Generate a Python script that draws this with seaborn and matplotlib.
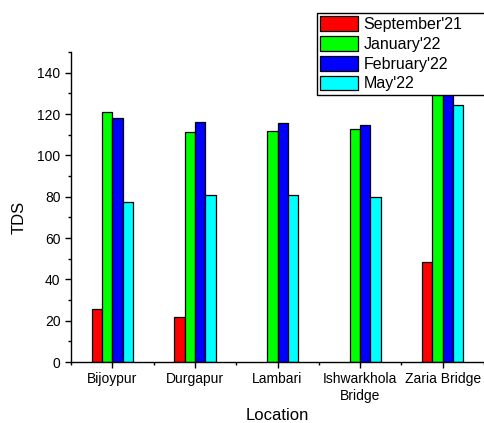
import numpy as np
import pandas as pd
import matplotlib
matplotlib.use("Agg")
import matplotlib.pyplot as plt
from matplotlib.ticker import MultipleLocator, FixedLocator
import seaborn as sns

locations = ["Bijoypur", "Durgapur", "Lambari", "Ishwarkhola\nBridge", "Zaria Bridge"]
months = ["September'21", "January'22", "February'22", "May'22"]
sep21 = [25.5, 22.0, np.nan, np.nan, 48.6]
jan22 = [121.2, 111.3, 111.6, 112.8, 138.0]
feb22 = [118.3, 116.2, 115.8, 114.8, 136.0]
may22 = [77.2, 81.0, 80.8, 79.6, 124.5]
colors = ["#FF0000", "#00FF00", "#0000FF", "#00FFFF"]

df = pd.DataFrame({
    "Location": np.tile(locations, len(months)),
    "Month": np.repeat(months, len(locations)),
    "TDS": sep21 + jan22 + feb22 + may22,
})

sns.set_style("ticks")
plt.rcParams["font.family"] = ["Liberation Sans", "DejaVu Sans"]
plt.rcParams["text.color"] = "black"
plt.rcParams["axes.labelcolor"] = "black"

fig = plt.figure(figsize=(4.84, 4.23), dpi=100)
ax = fig.add_axes([71 / 484, 1 - 362 / 423, 1 - 71 / 484, (362 - 52) / 423])

sns.barplot(data=df, x="Location", y="TDS", hue="Month", order=locations,
            hue_order=months, palette=colors, width=0.5, gap=0,
            edgecolor="black", linewidth=0.9, saturation=1, ax=ax,
            legend=True)

ax.set_xlim(-0.5, 4.5)
ax.set_ylim(0, 150)
ax.yaxis.set_major_locator(MultipleLocator(20))
ax.yaxis.set_minor_locator(MultipleLocator(10))
ax.xaxis.set_minor_locator(FixedLocator(np.arange(-0.5, 5.0, 1.0)))
ax.tick_params(axis="both", which="major", direction="out", length=4,
               width=1, labelsize=10, color="black", labelcolor="black")
ax.tick_params(axis="both", which="minor", direction="out", length=2.5,
               width=1, color="black")
for side in ("top", "right"):
    ax.spines[side].set_visible(False)
for side in ("left", "bottom"):
    ax.spines[side].set_linewidth(1)
    ax.spines[side].set_color("black")

ax.set_ylabel("TDS", fontsize=12)
ax.yaxis.set_label_coords(-0.108, 0.465)
ax.set_xlabel("Location", fontsize=12, labelpad=4)

handles, labels = ax.get_legend_handles_labels()
ax.get_legend().remove()
leg = fig.legend(handles, labels, loc="upper left",
                 bbox_to_anchor=(317 / 484, 1 - 13 / 423, 0.4, 0.0),
                 bbox_transform=fig.transFigure, mode="expand",
                 fontsize=11.5, frameon=True, fancybox=False,
                 edgecolor="black", framealpha=1, borderpad=0.2,
                 handlelength=2.375, handleheight=1.04, handletextpad=0.35,
                 labelspacing=0.25, borderaxespad=0)
leg.get_frame().set_linewidth(1)
leg.set_zorder(10)

fig.savefig("out.png", dpi=100)
